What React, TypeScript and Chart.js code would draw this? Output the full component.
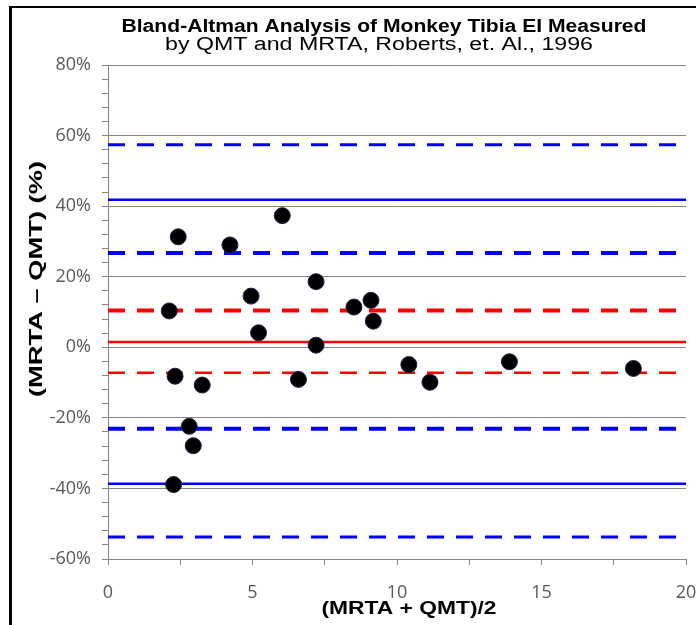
import React, { useEffect, useRef } from 'react';
import { Chart, registerables } from 'chart.js';

Chart.register(...registerables);

const titleLines = [
  'Bland-Altman Analysis of Monkey Tibia EI Measured',
  'by QMT and MRTA, Roberts, et. Al., 1996',
];
const xAxisTitle = '(MRTA + QMT)/2';
const yAxisTitle = '(MRTA \u2013 QMT) (%)';

// Mean of the two methods (x) and their percent difference (y)
const meanValues = [2.43, 4.22, 6.03, 2.12, 4.95, 5.21, 7.2, 7.2, 8.51, 9.1, 9.18, 2.32, 3.26, 6.59, 2.81, 2.95, 2.27, 10.41, 11.14, 13.89, 18.18];
const diffValues = [31.3, 29.0, 37.3, 10.3, 14.5, 4.1, 18.6, 0.6, 11.4, 13.3, 7.4, -8.2, -10.7, -9.1, -22.4, -27.9, -38.9, -4.9, -9.9, -4.1, -6.0];

// Reference lines
const meanDiff = 1.5;
const meanDiffCI = [10.4, -7.2];
const limitsOfAgreement = [41.8, -38.7];
const upperLimitCI = [57.4, 26.7];
const lowerLimitCI = [-23.1, -53.8];

const xRange = [0, 20];
const yRange = [-60, 80];
const xTickStep = 2.5;
const xLabelStep = 5;
const yTickStep = 4;
const yLabelStep = 20;

const BLUE = '#0000ff';
const RED = '#ff0000';
const GRAY = '#868686';
const TICK_FONT = { family: '"Open Sans", sans-serif', size: 18 };

const hline = (y: number) => [
  { x: xRange[0], y },
  { x: xRange[1], y },
];

const lineDs = (y: number, color: string, width: number, dashed: boolean) => ({
  type: 'scatter' as const,
  data: hline(y),
  showLine: true,
  borderColor: color,
  backgroundColor: color,
  borderWidth: width,
  borderDash: dashed ? [17, 12] : [],
  pointRadius: 0,
  pointHoverRadius: 0,
});

function drawFitted(ctx: CanvasRenderingContext2D, text: string, cx: number, baseY: number, targetW: number) {
  const w = ctx.measureText(text).width;
  const sx = targetW / w;
  ctx.save();
  ctx.translate(cx, baseY);
  ctx.scale(sx, 1);
  ctx.textAlign = 'center';
  ctx.textBaseline = 'alphabetic';
  ctx.fillText(text, 0, 0);
  ctx.restore();
}

const decorPlugin = {
  id: 'decor',
  beforeDraw(chart: any) {
    const ctx = chart.ctx as CanvasRenderingContext2D;
    ctx.save();
    ctx.fillStyle = '#ffffff';
    ctx.fillRect(0, 0, chart.width, chart.height);
    ctx.fillStyle = '#000000';
    ctx.fillRect(9, 6, chart.width - 9, 2);
    ctx.fillRect(9, 6, 3, chart.height - 6);
    ctx.restore();
  },
  afterDraw(chart: any) {
    const ctx = chart.ctx as CanvasRenderingContext2D;
    ctx.save();
    ctx.fillStyle = '#000000';
    ctx.font = 'bold 18px "Liberation Sans", Arial, sans-serif';
    drawFitted(ctx, titleLines[0], 384, 32, 525);
    ctx.font = '18px "Liberation Sans", Arial, sans-serif';
    drawFitted(ctx, titleLines[1], 379, 50, 428);
    ctx.font = 'bold 19px "Liberation Sans", Arial, sans-serif';
    drawFitted(ctx, xAxisTitle, 409, 614, 175);
    ctx.save();
    ctx.translate(42, 279);
    ctx.rotate(-Math.PI / 2);
    drawFitted(ctx, yAxisTitle, 0, 0, 236);
    ctx.restore();
    ctx.restore();
  },
};

export default function App() {
  const ref = useRef<HTMLCanvasElement | null>(null);

  useEffect(() => {
    if (!ref.current) return;
    const points = meanValues.map((x, i) => ({ x, y: diffValues[i] }));
    const chart = new Chart(ref.current, {
      type: 'scatter',
      data: {
        datasets: [
          {
            type: 'scatter',
            data: points,
            pointRadius: 8,
            pointHoverRadius: 8,
            backgroundColor: '#000000',
            borderColor: '#23234a',
            borderWidth: 1,
          },
          lineDs(upperLimitCI[0], BLUE, 3, true),
          lineDs(limitsOfAgreement[0], BLUE, 2.5, false),
          lineDs(upperLimitCI[1], BLUE, 4, true),
          lineDs(meanDiffCI[0], RED, 4, true),
          lineDs(meanDiff, RED, 2.5, false),
          lineDs(meanDiffCI[1], RED, 2.5, true),
          lineDs(lowerLimitCI[0], BLUE, 4, true),
          lineDs(limitsOfAgreement[1], BLUE, 2.5, false),
          lineDs(lowerLimitCI[1], BLUE, 3, true),
        ] as any,
      },
      options: {
        responsive: false,
        animation: false,
        devicePixelRatio: 1,
        layout: { padding: { top: 65, right: 10, left: 0, bottom: 0 } },
        plugins: {
          legend: { display: false },
          title: { display: false },
          tooltip: { enabled: false },
        },
        scales: {
          x: {
            type: 'linear',
            min: xRange[0],
            max: xRange[1],
            ticks: {
              stepSize: xTickStep,
              autoSkip: false,
              maxRotation: 0,
              color: '#595959',
              font: TICK_FONT,
              padding: 17,
              callback: (v: any) => (Number(v) % xLabelStep === 0 ? String(v) : ''),
            },
            grid: {
              drawOnChartArea: false,
              drawTicks: true,
              tickLength: 6,
              tickColor: GRAY,
            },
            border: { color: GRAY, width: 1 },
            afterFit: (s: any) => {
              s.height = 66;
              s.paddingRight = 0;
              s.paddingLeft = 0;
            },
          },
          y: {
            type: 'linear',
            min: yRange[0],
            max: yRange[1],
            ticks: {
              stepSize: yTickStep,
              autoSkip: false,
              color: '#595959',
              font: TICK_FONT,
              padding: 11,
              callback: (v: any) => (Number(v) % yLabelStep === 0 ? `${v}%` : ''),
            },
            grid: {
              color: (c: any) => (c.tick && c.tick.value % yLabelStep === 0 ? GRAY : 'rgba(0,0,0,0)'),
              lineWidth: 1,
              drawTicks: true,
              tickLength: 6,
              tickColor: GRAY,
            },
            border: { color: GRAY, width: 1 },
            afterFit: (s: any) => {
              s.width = 108;
              s.paddingTop = 0;
              s.paddingBottom = 0;
            },
          },
        },
      } as any,
      plugins: [decorPlugin],
    });
    return () => chart.destroy();
  }, []);

  return (
    <div style={{ position: 'fixed', left: 0, top: 0, width: 696, height: 625, background: '#fff' }}>
      <canvas ref={ref} width={696} height={625} style={{ display: 'block', width: 696, height: 625 }} />
    </div>
  );
}
